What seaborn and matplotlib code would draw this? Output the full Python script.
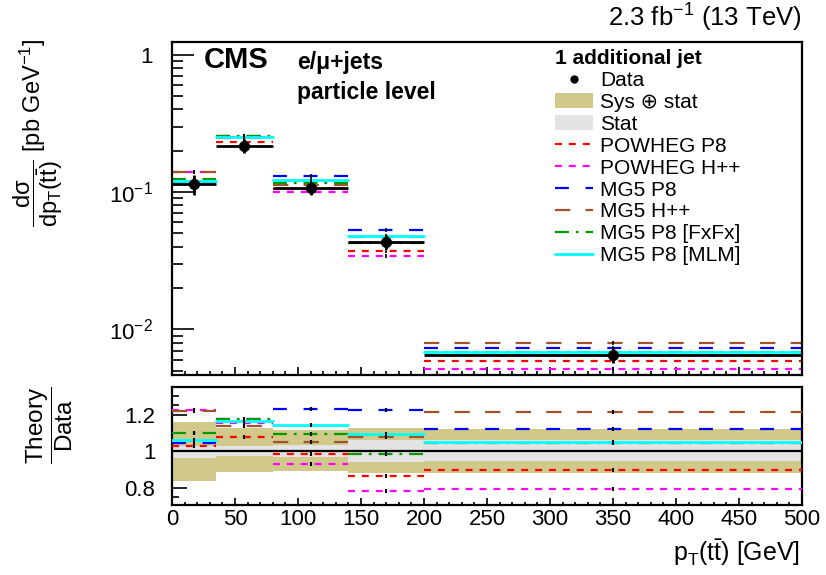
import numpy as np
import pandas as pd
import matplotlib
matplotlib.use("Agg")
import matplotlib.pyplot as plt
import seaborn as sns
from matplotlib.lines import Line2D
from matplotlib.patches import Patch
from matplotlib.colors import to_hex
from matplotlib.ticker import FixedLocator, MultipleLocator, FuncFormatter, NullFormatter

# ---- measured differential cross section, p_T(tt) with 1 additional jet ----
bin_edges = [0, 35, 80, 140, 200, 500]
data_xsec = [0.114, 0.217, 0.107, 0.0434, 0.0065]      # pb / GeV

# relative uncertainties (ratio to data)
sys_up = [1.160, 1.124, 1.115, 1.124, 1.120]
sys_dn = [0.837, 0.887, 0.892, 0.881, 0.878]
stat_up = [1.030, 1.025, 1.033, 1.060, 1.060]
stat_dn = [0.960, 0.973, 0.969, 0.940, 0.945]

# theory / data per bin
models = ["POWHEG P8", "POWHEG H++", "MG5 P8", "MG5 H++", "MG5 P8 [FxFx]", "MG5 P8 [MLM]"]
ratio_powheg_p8 = [1.030, 1.075, 0.982, 0.863, 0.896]
ratio_powheg_hpp = [1.225, 1.155, 0.929, 0.782, 0.793]
ratio_mg5_p8 = [1.045, 1.175, 1.230, 1.225, 1.120]
ratio_mg5_hpp = [1.219, 1.139, 1.049, 1.078, 1.212]
ratio_mg5_fxfx = [1.097, 1.175, 1.091, 0.982, 1.042]
ratio_mg5_mlm = [1.060, 1.164, 1.141, 1.093, 1.049]
model_ratios = [ratio_powheg_p8, ratio_powheg_hpp, ratio_mg5_p8,
                ratio_mg5_hpp, ratio_mg5_fxfx, ratio_mg5_mlm]

colors = {"POWHEG P8": "#ff0000", "POWHEG H++": "#ff00ff", "MG5 P8": "#0000ff",
          "MG5 H++": "#a0522d", "MG5 P8 [FxFx]": "#009a00", "MG5 P8 [MLM]": "#00ffff"}
dashes = {"POWHEG P8": (5, 5), "POWHEG H++": (5, 5), "MG5 P8": (10, 12),
          "MG5 H++": (11, 11), "MG5 P8 [FxFx]": (10, 5, 2, 5), "MG5 P8 [MLM]": ""}
widths = {"POWHEG P8": 1.6, "POWHEG H++": 1.6, "MG5 P8": 1.6,
          "MG5 H++": 1.6, "MG5 P8 [FxFx]": 1.6, "MG5 P8 [MLM]": 2.0}
width_by_color = {to_hex(colors[m]): widths[m] for m in models}
sys_color = "#d0c98a"
stat_color = "#e3e3e3"

sns.set_theme(style="ticks")
plt.rcParams["font.family"] = ["Liberation Sans", "DejaVu Sans"]
plt.rcParams["mathtext.fontset"] = "custom"
plt.rcParams["mathtext.rm"] = "Liberation Sans"
plt.rcParams["mathtext.it"] = "Liberation Sans"
plt.rcParams["mathtext.bf"] = "Liberation Sans:bold"
plt.rcParams["lines.scale_dashes"] = False
plt.rcParams["axes.linewidth"] = 1.6
for key in ("text.color", "axes.labelcolor", "xtick.color", "ytick.color",
            "axes.edgecolor"):
    plt.rcParams[key] = "black"

TICK_FS = 16

edges = np.array(bin_edges, dtype=float)
lo, hi = edges[:-1], edges[1:]
centers = 0.5 * (lo + hi)
data = np.array(data_xsec)

# long table: one horizontal segment per model and bin
rows = []
for name, r in zip(models, model_ratios):
    for i in range(len(data)):
        for x in (lo[i], hi[i]):
            rows.append({"model": name, "bin": i, "x": x, "ratio": r[i],
                         "xsec": r[i] * data[i]})
df = pd.DataFrame(rows)


def style_model_lines(ax):
    for ln in ax.get_lines():
        c = to_hex(ln.get_color())
        if c in width_by_color:
            ln.set_linewidth(width_by_color[c])


fig = plt.figure(figsize=(8.26, 5.75), dpi=100)
ax_top = fig.add_axes([0.2082, 0.3478, 0.7627, 0.5792])
ax_rat = fig.add_axes([0.2082, 0.1217, 0.7627, 0.2052])

# ---------------- upper panel ----------------
ax_top.set_yscale("log")
sns.lineplot(data=df, x="x", y="xsec", hue="model", style="model", units="bin",
             estimator=None, sort=False, palette=colors, dashes=dashes,
             hue_order=models, style_order=models, legend=False, ax=ax_top)
style_model_lines(ax_top)

yerr = np.vstack([data * (1 - np.array(sys_dn)), data * (np.array(sys_up) - 1)])
ax_top.errorbar(centers, data, xerr=[centers - lo, hi - centers], yerr=yerr,
                fmt="none", ecolor="black", elinewidth=2, capsize=0, zorder=5)
sns.scatterplot(x=centers, y=data, color="black", s=55, edgecolor="black",
                zorder=6, ax=ax_top)

ax_top.set_xlim(0, 500)
ax_top.set_ylim(0.00464, 1.24)
ax_top.yaxis.set_major_locator(FixedLocator([1e-2, 1e-1, 1]))
ax_top.yaxis.set_major_formatter(FuncFormatter(
    lambda v, p: "1" if abs(v - 1) < 1e-9 else r"$10^{%d}$" % round(np.log10(v))))
minors = [k * 10.0 ** e for e in (-3, -2, -1) for k in range(2, 10)]
ax_top.yaxis.set_minor_locator(FixedLocator(minors))
ax_top.yaxis.set_minor_formatter(NullFormatter())
ax_top.xaxis.set_major_locator(MultipleLocator(50))
ax_top.xaxis.set_minor_locator(MultipleLocator(10))
ax_top.set_xticklabels([])
ax_top.tick_params(axis="both", which="both", direction="in", width=1.2,
                   top=False, right=False)
ax_top.tick_params(axis="y", which="major", length=16, pad=14, labelsize=TICK_FS)
ax_top.tick_params(axis="y", which="minor", length=8)
ax_top.tick_params(axis="x", which="major", length=6)
ax_top.tick_params(axis="x", which="minor", length=3)
ax_top.set_xlabel("")
ax_top.set_ylabel("")

fig.text(204 / 826, 1 - 60 / 575, "CMS", fontsize=21, fontweight="bold",
         ha="left", va="center")
fig.text(297 / 826, 1 - 63 / 575, "e/\u03bc+jets", fontsize=16.5,
         fontweight="bold", ha="left", va="center")
fig.text(297 / 826, 1 - 93 / 575, "particle level", fontsize=16.5,
         fontweight="bold", ha="left", va="center")
fig.text(802 / 826, 1 - 18 / 575, r"2.3 fb$^{-1}$ (13 TeV)", fontsize=18.5,
         ha="right", va="center")
fig.text(38 / 826, 1 - 133 / 575,
         r"$\dfrac{\mathrm{d}\sigma}{\mathrm{d}p_{\mathrm{T}}(\mathrm{t}\bar{\mathrm{t}})}$ [pb GeV$^{-1}$]",
         fontsize=17, rotation=90, ha="center", va="center")

# legend
handles = [Line2D([], [], marker="o", color="black", ls="none", ms=5),
           Patch(facecolor=sys_color, edgecolor="none"),
           Patch(facecolor=stat_color, edgecolor="none")]
for name in models:
    d = dashes[name]
    ls = "-" if d == "" else (0, d)
    handles.append(Line2D([], [], color=colors[name], ls=ls, lw=widths[name]))
labels = ["Data", "Sys \u2295 stat", "Stat"] + models
leg = ax_top.legend(handles, labels, title="1 additional jet", loc="upper left",
                    bbox_to_anchor=(555 / 826, 1 - 49 / 575),
                    bbox_transform=fig.transFigure, frameon=False,
                    fontsize=15, title_fontproperties={"weight": "bold", "size": 15},
                    alignment="left", handlelength=1.83, handletextpad=0.34,
                    labelspacing=0.14, borderpad=0, borderaxespad=0)

# ---------------- ratio panel ----------------
ax_rat.fill_between(edges, np.r_[sys_dn, sys_dn[-1]], np.r_[sys_up, sys_up[-1]],
                    step="post", color=sys_color, lw=0, zorder=1)
ax_rat.fill_between(edges, np.r_[stat_dn, stat_dn[-1]], np.r_[stat_up, stat_up[-1]],
                    step="post", color=stat_color, lw=0, zorder=2)
ax_rat.axhline(1.0, color="black", lw=1.6, zorder=3)
sns.lineplot(data=df, x="x", y="ratio", hue="model", style="model", units="bin",
             estimator=None, sort=False, palette=colors, dashes=dashes,
             hue_order=models, style_order=models, legend=False, ax=ax_rat, zorder=4)
style_model_lines(ax_rat)

# statistical markers of the predictions at the bin centres
for r in model_ratios:
    ax_rat.scatter(centers, r, marker="|", s=9, color="black", lw=1.5, zorder=6)
    ax_top.scatter(centers, np.array(r) * data, marker="|", s=9, color="black",
                   lw=1.2, zorder=4)

ax_rat.set_xlim(0, 500)
ax_rat.set_ylim(0.704, 1.351)
ax_rat.yaxis.set_major_locator(FixedLocator([0.8, 1.0, 1.2]))
ax_rat.yaxis.set_major_formatter(FuncFormatter(lambda v, p: "1" if abs(v - 1) < 1e-9 else "%.1f" % v))
ax_rat.yaxis.set_minor_locator(MultipleLocator(0.05))
ax_rat.xaxis.set_major_locator(MultipleLocator(50))
ax_rat.xaxis.set_minor_locator(MultipleLocator(10))
ax_rat.tick_params(axis="both", which="both", direction="in", width=1.2,
                   top=False, right=False, labelsize=TICK_FS)
ax_rat.tick_params(axis="y", which="major", length=11, pad=12)
ax_rat.tick_params(axis="y", which="minor", length=5)
ax_rat.tick_params(axis="x", which="major", length=5, pad=3)
ax_rat.tick_params(axis="x", which="minor", length=2.5)
ax_rat.set_xlabel("")
ax_rat.set_ylabel("")
for a in (ax_top, ax_rat):
    for s in a.spines.values():
        s.set_visible(True)
        s.set_color("black")
        s.set_linewidth(1.6)

fig.text(50 / 826, 1 - 425 / 575, r"$\dfrac{\mathrm{Theory}}{\mathrm{Data}}$",
         fontsize=17.5, rotation=90, ha="center", va="center")
fig.text(800 / 826, 1 - 553 / 575, r"p$_{\mathrm{T}}$(t$\bar{\mathrm{t}}$) [GeV]",
         fontsize=18, ha="right", va="center")

fig.savefig("out.png", dpi=100)
